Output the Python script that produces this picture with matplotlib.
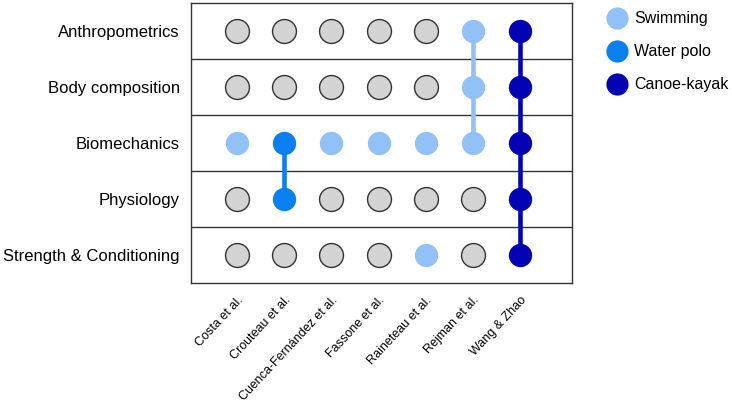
import matplotlib
matplotlib.use("Agg")
import matplotlib.pyplot as plt
from matplotlib.lines import Line2D

plt.rcParams['font.family'] = ['Liberation Sans', 'DejaVu Sans']

categories = ["Anthropometrics", "Body composition", "Biomechanics", "Physiology", "Strength & Conditioning"]
studies = ["Costa et al.", "Crouteau et al.", "Cuenca-Fernández et al.", "Fassone et al.",
           "Raineteau et al.", "Rejman et al.", "Wang & Zhao"]
study_sport = ["Swimming", "Water polo", "Swimming", "Swimming", "Swimming", "Swimming", "Canoe-kayak"]
# membership[study] = list of category flags (same order as categories)
membership = [
    [0, 0, 1, 0, 0],
    [0, 0, 1, 1, 0],
    [0, 0, 1, 0, 0],
    [0, 0, 1, 0, 0],
    [0, 0, 1, 0, 1],
    [1, 1, 1, 0, 0],
    [1, 1, 1, 1, 1],
]
sports = ["Swimming", "Water polo", "Canoe-kayak"]
sport_colors = {"Swimming": "#92c1f8", "Water polo": "#0a7ff0", "Canoe-kayak": "#0303b4"}

fig = plt.figure(figsize=(7.32, 4.07), dpi=100)
ax = fig.add_axes([191/732, 1-283/407, (572-191)/732, (283-3)/407])

for i, (study, flags) in enumerate(zip(studies, membership)):
    col = sport_colors[study_sport[i]]
    # connecting lines between consecutive active rows
    for j in range(len(categories) - 1):
        if flags[j] and flags[j + 1]:
            ax.plot([i, i], [j, j + 1], color=col, lw=3.3, zorder=2, solid_capstyle='butt')
    for j, f in enumerate(flags):
        if f:
            ax.plot(i, j, 'o', ms=16.8, color=col, markeredgewidth=0, zorder=3)
        else:
            ax.plot(i, j, 'o', ms=17.2, markerfacecolor='#d3d3d3', markeredgecolor='#333333',
                    markeredgewidth=1.0, zorder=3)

for j in range(len(categories) - 1):
    ax.axhline(j + 0.5, color='#333333', lw=1.0, zorder=1)

ax.set_xlim(-0.975, 7.1)
ax.set_ylim(len(categories) - 0.5, -0.5)
ax.set_yticks(range(len(categories)))
ax.set_yticklabels(categories, fontsize=12.0)
ax.set_xticks(range(len(studies)))
ax.set_xticklabels(studies, rotation=47, ha='right', va='top', rotation_mode='anchor', fontsize=9.0)
ax.tick_params(length=0)
ax.tick_params(axis='x', pad=8)
ax.tick_params(axis='y', pad=8)
for s in ax.spines.values():
    s.set_color('#333333')
    s.set_linewidth(1.0)

handles = [Line2D([0], [0], marker='o', lw=0, ms=16, color=sport_colors[s], markeredgewidth=0) for s in sports]
fig.legend(handles, sports, loc='upper left', bbox_to_anchor=(591.5/732, 1.0 + 3/407), frameon=False,
           fontsize=11.5, handletextpad=0.36, labelspacing=1.125, handlelength=1.4)

fig.savefig("out.png", dpi=100)
